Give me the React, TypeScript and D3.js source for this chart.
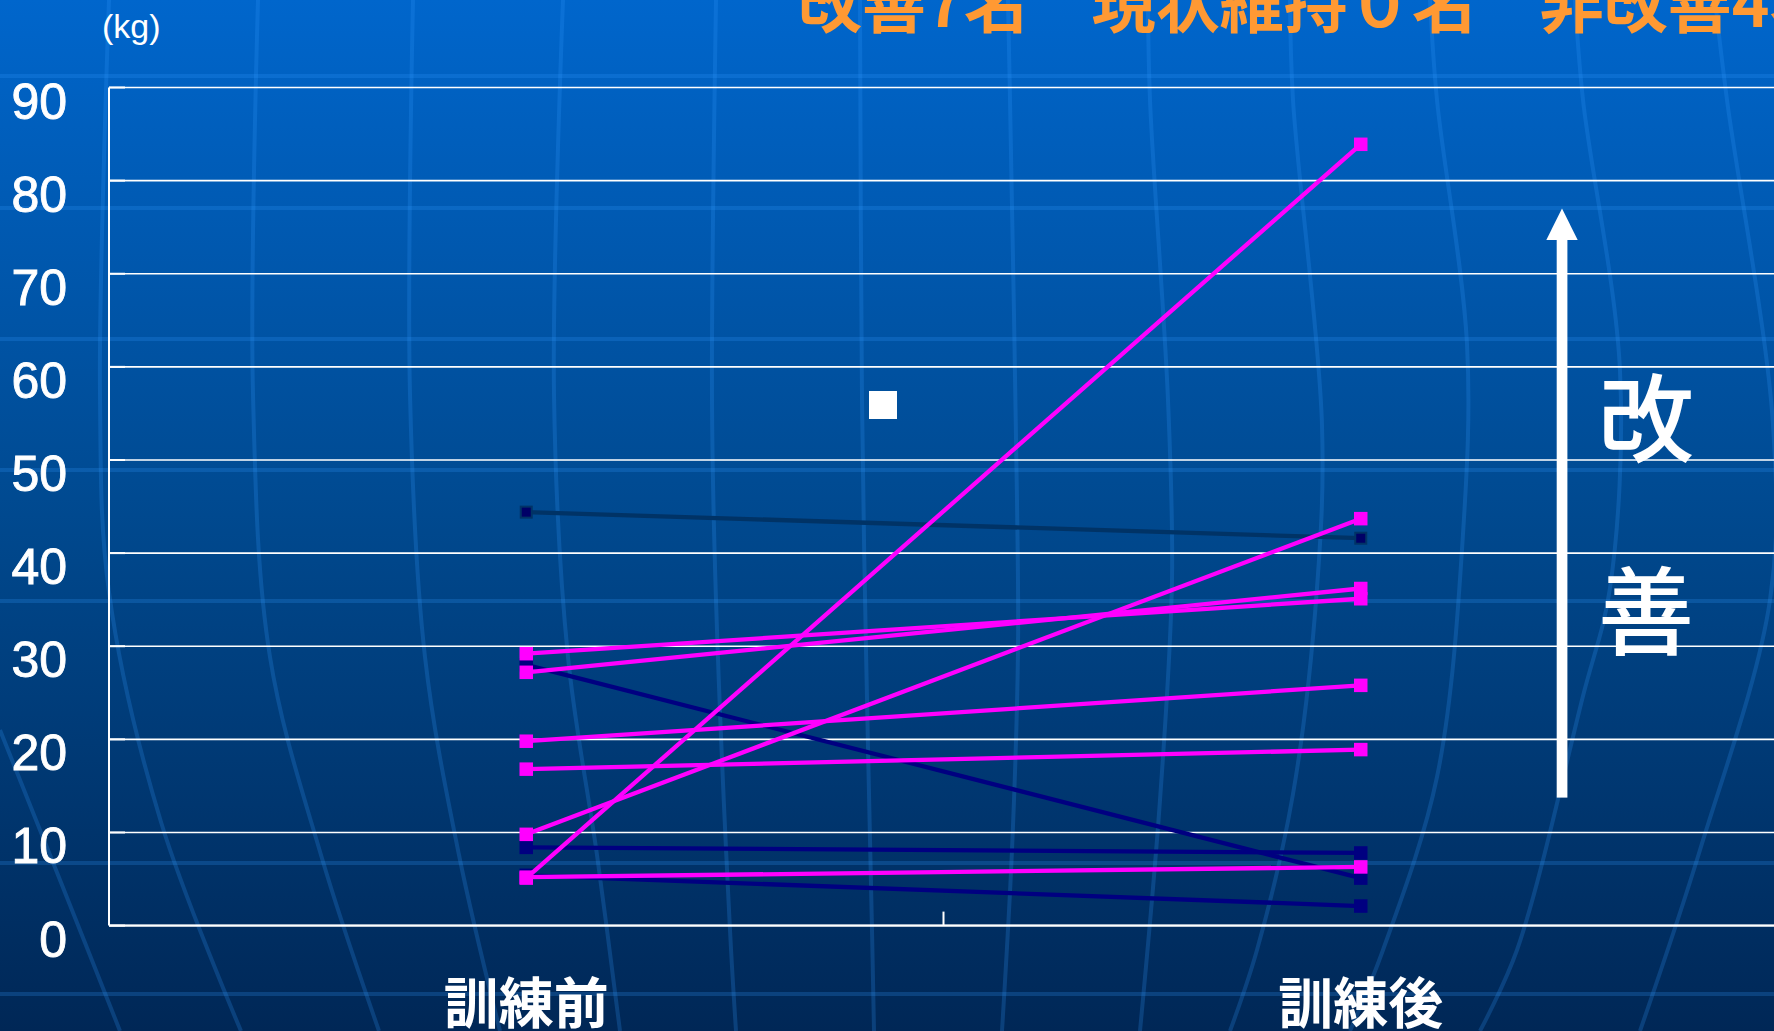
import React from 'react';
import * as d3 from 'd3';

const W = 1774;
const H = 1031;

// ---- data ----
const categories = ['訓練前', '訓練後'];
const yTicks = [0, 10, 20, 30, 40, 50, 60, 70, 80, 90];
const improvedBefore = [5.1, 9.8, 29.2, 27.2, 19.8, 16.8, 5.2];
const improvedAfter = [83.9, 43.7, 35.1, 36.2, 25.8, 18.9, 6.3];
const nonImprovedBefore = [44.4, 28.0, 8.4, 5.4];
const nonImprovedAfter = [41.6, 5.1, 7.8, 2.1];
const title = '改善7名　現状維持０名　非改善4名';
const unitLabel = '(kg)';
const arrowLabel = ['改', '善'];

// ---- background decoration (globe pattern) ----
const meridians: [number, number][][] = [
  [[0, 730], [60, 880], [120, 1031]],
  [[109, 0], [100, 394], [109, 592], [161, 822], [241, 1031]],
  [[258, 0], [253, 394], [270, 657], [321, 855], [379, 1031]],
  [[413, 0], [410, 394], [425, 657], [459, 855], [500, 1031]],
  [[563, 0], [554, 394], [568, 657], [597, 855], [620, 1031]],
  [[716, 0], [712, 400], [716, 600], [730, 930], [736, 1031]],
  [[860, 0], [862, 400], [866, 650], [872, 930], [874, 1031]],
  [[1008, 0], [1010, 100], [1017, 500], [1018, 650], [1012, 850], [1002, 1031]],
  [[1148, 0], [1150, 100], [1168, 400], [1172, 580], [1160, 800], [1140, 1031]],
  [[1290, 0], [1293, 100], [1322, 425], [1317, 588], [1293, 794], [1257, 950], [1230, 1031]],
  [[1430, 0], [1437, 100], [1467, 344], [1463, 534], [1437, 777], [1383, 950], [1350, 1031]],
  [[1575, 0], [1583, 100], [1620, 371], [1610, 588], [1583, 696], [1517, 950], [1480, 1031]],
  [[1715, 0], [1727, 100], [1773, 425], [1770, 600], [1700, 850], [1640, 1031]],
];
const latitudes = [76, 208, 339, 470, 601, 863, 994];

export default function App() {
  const x = d3.scaleBand<string>().domain(categories).range([109, 1778]).padding(0);
  const cx = (c: string) => (x(c) as number) + x.bandwidth() / 2;
  const y = d3.scaleLinear().domain([0, 90]).range([925.6, 87.5]);
  const lineGen = d3.line<[number, number]>().curve(d3.curveCatmullRom);

  const x0 = cx(categories[0]);
  const x1 = cx(categories[1]);

  const mSize = 13.5;
  const lw = 4.3;
  const nonColors = ['#003366', '#000080', '#000080', '#000080'];

  return (
    <svg
      width={W}
      height={H}
      style={{ position: 'absolute', left: 0, top: 0, display: 'block' }}
      xmlns="http://www.w3.org/2000/svg"
    >
      <defs>
        <linearGradient id="bg" x1="0" y1="0" x2="0" y2="1">
          <stop offset="0" stopColor="#0066CC" />
          <stop offset="0.5" stopColor="#00498F" />
          <stop offset="1" stopColor="#002756" />
        </linearGradient>
      </defs>
      <rect x={0} y={0} width={W} height={H} fill="url(#bg)" />
      <g stroke="#3399FF" strokeOpacity={0.22} strokeWidth={4} fill="none">
        {latitudes.map((ly, i) => (
          <line key={'lat' + i} x1={0} x2={W} y1={ly} y2={ly} />
        ))}
        {meridians.map((pts, i) => (
          <path key={'mer' + i} d={lineGen(pts) || ''} />
        ))}
      </g>

      {/* title */}
      <text
        x={798}
        y={27}
        fill="#FF9933"
        fontSize={64}
        fontWeight={700}
        fontFamily="'Noto Sans CJK JP', 'Noto Sans CJK SC', sans-serif"
      >
        {title}
      </text>

      {/* unit */}
      <text x={102} y={38} fill="#FFFFFF" fontSize={34} fontFamily="'Liberation Sans', Arial, sans-serif">
        {unitLabel}
      </text>

      {/* gridlines */}
      <g>
        {yTicks.map((t) => (
          <line key={'g' + t} x1={109} x2={1778} y1={y(t)} y2={y(t)} stroke="#FFFFFF" strokeWidth={1.6} />
        ))}
        {yTicks.map((t) => (
          <line key={'tk' + t} x1={109} x2={125} y1={y(t)} y2={y(t)} stroke="#FFFFFF" strokeWidth={2} />
        ))}
      </g>
      {/* axes */}
      <line x1={109} x2={109} y1={y(90)} y2={y(0)} stroke="#FFFFFF" strokeWidth={2} />
      <line x1={109} x2={1778} y1={y(0)} y2={y(0)} stroke="#FFFFFF" strokeWidth={2} />
      {[x(categories[1]) as number].map((bx, i) => (
        <line key={'ct' + i} x1={bx} x2={bx} y1={y(0) - 14} y2={y(0)} stroke="#FFFFFF" strokeWidth={2} />
      ))}

      {/* y tick labels */}
      {yTicks.map((t) => (
        <text
          key={'yl' + t}
          x={67}
          y={y(t) + 31}
          textAnchor="end"
          fill="#FFFFFF"
          stroke="#FFFFFF"
          strokeWidth={0.9}
          fontSize={50}
          fontFamily="'Liberation Sans', Arial, sans-serif"
        >
          {t}
        </text>
      ))}

      {/* category labels */}
      {categories.map((c) => (
        <text
          key={'cl' + c}
          x={cx(c)}
          y={1023}
          textAnchor="middle"
          fill="#FFFFFF"
          fontSize={55}
          fontWeight={700}
          fontFamily="'Noto Sans CJK JP', 'Noto Sans CJK SC', sans-serif"
        >
          {c}
        </text>
      ))}

      {/* non-improved series */}
      {nonImprovedBefore.map((b, i) => (
        <line
          key={'nl' + i}
          x1={x0}
          y1={y(b)}
          x2={x1}
          y2={y(nonImprovedAfter[i])}
          stroke={nonColors[i]}
          strokeWidth={lw}
        />
      ))}
      {nonImprovedBefore.map((b, i) =>
        [
          [x0, b],
          [x1, nonImprovedAfter[i]],
        ].map(([px, v], j) =>
          i === 0 ? (
            <rect
              key={'nm' + i + '-' + j}
              x={px - 5.5}
              y={y(v) - 5.5}
              width={11}
              height={11}
              fill="#000066"
              stroke="#003366"
              strokeWidth={2}
            />
          ) : (
            <rect
              key={'nm' + i + '-' + j}
              x={px - mSize / 2}
              y={y(v) - mSize / 2}
              width={mSize}
              height={mSize}
              fill="#000080"
            />
          )
        )
      )}

      {/* improved series */}
      {improvedBefore.map((b, i) => (
        <line
          key={'pl' + i}
          x1={x0}
          y1={y(b)}
          x2={x1}
          y2={y(improvedAfter[i])}
          stroke="#FF00FF"
          strokeWidth={lw}
        />
      ))}
      {improvedBefore.map((b, i) =>
        [
          [x0, b],
          [x1, improvedAfter[i]],
        ].map(([px, v], j) => (
          <rect
            key={'pm' + i + '-' + j}
            x={px - mSize / 2}
            y={y(v) - mSize / 2}
            width={mSize}
            height={mSize}
            fill="#FF00FF"
          />
        ))
      )}

      {/* stray white marker */}
      <rect x={869} y={391} width={28} height={28} fill="#FFFFFF" />

      {/* improvement arrow */}
      <rect x={1556.7} y={238} width={10.7} height={559.6} fill="#FFFFFF" />
      <path d="M1562,208.4 L1577.7,240 L1546.3,240 Z" fill="#FFFFFF" />
      {arrowLabel.map((ch, i) => (
        <text
          key={'al' + i}
          x={1646}
          y={454 + i * 193}
          textAnchor="middle"
          fill="#FFFFFF"
          fontSize={96}
          fontWeight={500}
          fontFamily="'Noto Sans CJK JP', 'Noto Sans CJK SC', sans-serif"
        >
          {ch}
        </text>
      ))}
    </svg>
  );
}
